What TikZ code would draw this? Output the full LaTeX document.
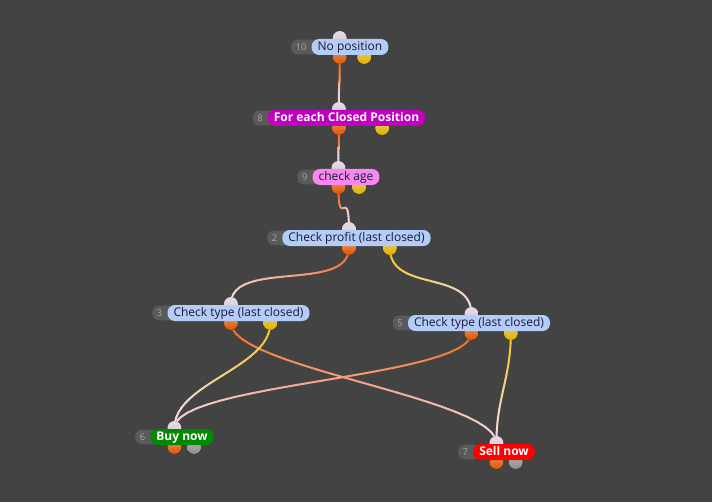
\documentclass[tikz,border=0pt]{standalone}
\usepackage{fontspec}
\setmainfont{Open Sans}
\usetikzlibrary{calc}
\pgfdeclarelayer{bg}
\pgfdeclarelayer{links}
\pgfdeclarelayer{ports}
\pgfsetlayers{bg,links,ports,main}
\definecolor{canvas}{HTML}{434343}
\definecolor{badgegrey}{HTML}{5A5A5A}
\definecolor{numgrey}{HTML}{A8A8A8}
\definecolor{lblue}{HTML}{B4CDF8}
\definecolor{lmagenta}{HTML}{C000C0}
\definecolor{lpink}{HTML}{F888F0}
\definecolor{lgreen}{HTML}{008A00}
\definecolor{lred}{HTML}{FF0000}
\definecolor{navy}{HTML}{1A1A3A}
\definecolor{portin}{HTML}{D8C8D8}
\definecolor{porttrue}{HTML}{E05400}
\definecolor{portfalse}{HTML}{E0B000}
\definecolor{portnone}{HTML}{8C8C8C}
\definecolor{wiretrue}{HTML}{F26A1E}
\definecolor{wirefalse}{HTML}{F5C518}
\definecolor{wireend}{HTML}{F4DCEA}
\tikzset{
  block/.style={fill=#1, rounded corners=5.5pt, minimum height=12pt,
    inner xsep=4.5pt, inner ysep=0pt, text=navy, text height=6.6pt, text depth=1.8pt,
    font=\fontsize{9}{11}\selectfont},
  block/.default=lblue,
  boldblock/.style={block=#1, text=white, font=\fontsize{9}{11}\selectfont\bfseries},
  badge/.style={fill=badgegrey, rounded corners=5pt, minimum height=11pt,
    inner xsep=3.5pt, inner ysep=0pt, text=numgrey, anchor=east,
    text height=5pt, text depth=0pt, font=\fontsize{7}{8}\selectfont},
  wire/.style={line width=1.5pt, line cap=round},
  port/.style={top color=#1!65!white, bottom color=#1}
}
% Verbindung mit Farbverlauf
\newcommand{\gradlink}[3]{%
  \path (#1) .. controls +(0,45) and +(0,-45) .. (#2)
    \foreach \i [evaluate=\i as \t using \i/24] in {0,...,24} {coordinate[pos=\t] (g\i)};
  \foreach \i [evaluate=\i as \j using int(\i+1), evaluate=\i as \c using int(100-100*\i/23)] in {0,...,23}
    \draw[wire, draw=#3!\c!wireend] (g\i) -- (g\j);
}
\begin{document}
\begin{tikzpicture}[x=0.75pt, y=-0.75pt]
  \useasboundingbox (0,0) rectangle (712,502);
  \begin{pgfonlayer}{bg}
    \fill[canvas] (0,0) rectangle (712,502);
  \end{pgfonlayer}
  % Bloecke
  \node[block] (n10) at (350,47) {No position};
  \node[boldblock=lmagenta] (n8) at (346.5,118) {For each Closed Position};
  \node[block=lpink, text=navy] (n9) at (346,177) {check age};
  \node[block] (n2) at (356.5,238) {Check profit (last closed)};
  \node[block] (n3) at (238.5,313) {Check type (last closed)};
  \node[block] (n5) at (479,323) {Check type (last closed)};
  \node[boldblock=lgreen] (n6) at (182,437) {Buy now};
  \node[boldblock=lred] (n7) at (504,452) {Sell now};
  % Nummern und Anschluesse
  \begin{pgfonlayer}{ports}
    \foreach \n in {10,8,9,2,3,5,6,7}
      \node[badge] (b\n) at ([xshift=7pt]n\n.west) {\n\hspace*{7pt}};
  \end{pgfonlayer}
  \foreach \n in {10,8,9,2,3,5,6,7} {
    \coordinate (p\n-in) at ($(b\n.west)!0.5!(n\n.east) + (0,-9)$);
    \coordinate (p\n-t) at ($(b\n.west)!0.5!(n\n.east) + (0,10)$);
    \coordinate (p\n-f) at ($(b\n.west)!0.75!(n\n.east) + (0,10)$);
  }
  % Verbindungen
  \begin{pgfonlayer}{links}
    \gradlink{p10-t}{p8-in}{wiretrue}
    \gradlink{p8-t}{p9-in}{wiretrue}
    \gradlink{p9-t}{p2-in}{wiretrue}
    \gradlink{p2-t}{p3-in}{wiretrue}
    \gradlink{p2-f}{p5-in}{wirefalse}
    \gradlink{p3-t}{p7-in}{wiretrue}
    \gradlink{p3-f}{p6-in}{wirefalse}
    \gradlink{p5-t}{p6-in}{wiretrue}
    \gradlink{p5-f}{p7-in}{wirefalse}
  \end{pgfonlayer}
  \begin{pgfonlayer}{ports}
    \foreach \n in {10,8,9,2,3,5,6,7} {
      \fill[port=portin] (p\n-in) circle (7);
      \fill[port=porttrue] (p\n-t) circle (7);
    }
    \foreach \n in {10,8,9,2,3,5}
      \fill[port=portfalse] (p\n-f) circle (7);
    \foreach \n in {6,7}
      \fill[port=portnone] (p\n-f) circle (7);
  \end{pgfonlayer}
\end{tikzpicture}
\end{document}
